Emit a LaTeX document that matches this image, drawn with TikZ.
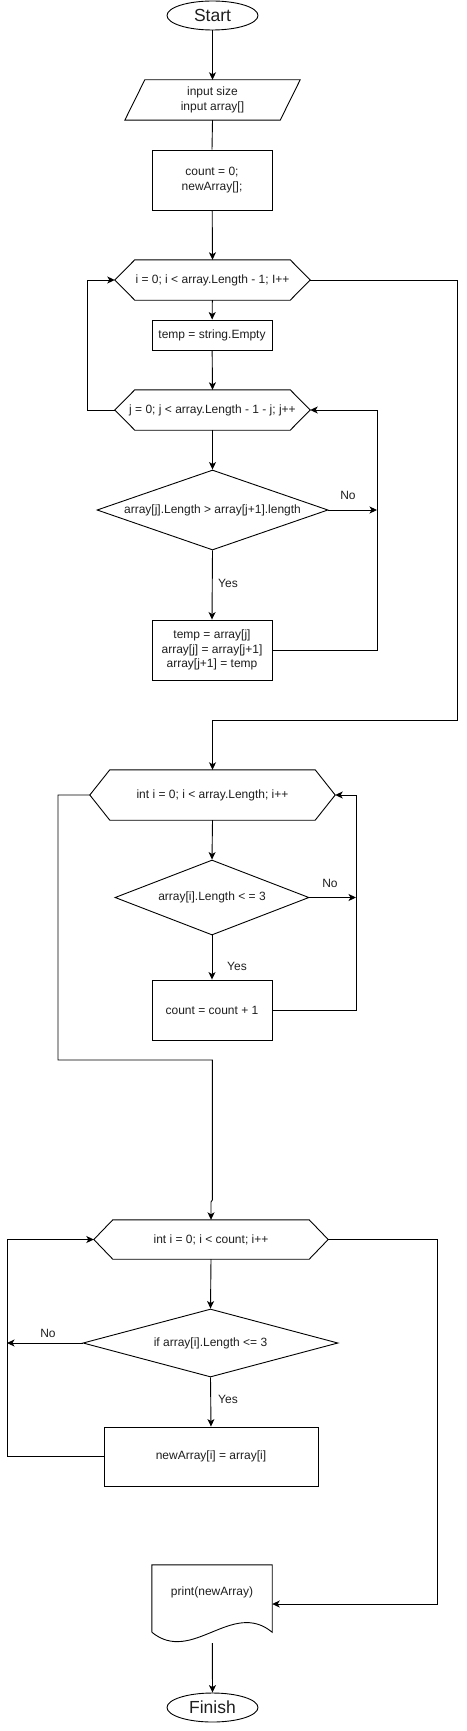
\documentclass[tikz,border=0pt]{standalone}
\usepackage{fontspec}
\setmainfont{Liberation Sans}
\usetikzlibrary{shapes.geometric,arrows.meta,calc}
\definecolor{txt}{RGB}{30,30,30}
\tikzset{
  every node/.style={text=txt,font=\fontsize{12}{14.5}\selectfont,inner sep=0pt},
  ln/.style={line width=0.9pt,draw=black},
  arr/.style={ln,-{Stealth[length=7.5pt,width=7pt,inset=2pt]}},
  term/.style={ellipse,draw=black,line width=0.9pt,minimum width=91pt,minimum height=29pt,font=\fontsize{17.5}{20}\selectfont},
  procbox/.style={rectangle,draw=black,line width=0.9pt,align=center},
  shapebox/.style={rectangle,align=center},
  decbox/.style={diamond,draw=black,line width=0.9pt,align=center},
  lbl/.style={font=\fontsize{12}{14}\selectfont}
}
\newcommand{\hexagonal}[2]{%
  \draw[ln] (#1.west) -- ($(#1.north west)+(#2,0)$) -- ($(#1.north east)+(-#2,0)$)
    -- (#1.east) -- ($(#1.south east)+(-#2,0)$) -- ($(#1.south west)+(#2,0)$) -- cycle;}
\begin{document}
\begin{tikzpicture}[x=1pt,y=-1pt]
\useasboundingbox (0,0) rectangle (466,1731);
% nodes
\node[term] (start) at (212.5,15.5) {Start};
\node[shapebox,minimum width=175pt,minimum height=40pt] (in) at (212.5,100) {input size\\input array[]};
\draw[ln] (in.south west) -- ($(in.north west)+(20,0)$) -- (in.north east) -- ($(in.south east)+(-20,0)$) -- cycle;
\node[procbox,minimum width=120pt,minimum height=60pt] (c1) at (212,180) {count = 0;\\newArray[];};
\node[shapebox,minimum width=195pt,minimum height=40pt] (h1) at (212.5,280) {i = 0; i {\textless} array.Length - 1; I++};
\hexagonal{h1}{20}
\node[procbox,minimum width=120pt,minimum height=30pt] (t1) at (212,335) {temp = string.Empty};
\node[shapebox,minimum width=195pt,minimum height=40pt] (h2) at (212.5,410) {j = 0; j {\textless} array.Length - 1 - j; j++};
\hexagonal{h2}{20}
\node[decbox,minimum width=231pt,minimum height=80pt,aspect=2.9] (d1) at (212.5,510) {array[j].Length {\textgreater} array[j+1].length};
\node[procbox,minimum width=120pt,minimum height=60pt] (s1) at (212,650) {temp = array[j]\\array[j] = array[j+1]\\array[j+1] = temp};
\node[shapebox,minimum width=245pt,minimum height=50pt] (h3) at (212.5,795) {int i = 0; i {\textless} array.Length; i++};
\hexagonal{h3}{20}
\node[decbox,minimum width=194pt,minimum height=75pt,aspect=2.6] (d2) at (212,897.5) {array[i].Length {\textless} = 3};
\node[procbox,minimum width=120pt,minimum height=60pt] (c2) at (212,1010) {count = count + 1};
\node[shapebox,minimum width=234pt,minimum height=39pt] (h4) at (211,1239.5) {int i = 0; i {\textless} count; i++};
\hexagonal{h4}{19}
\node[decbox,minimum width=255pt,minimum height=68pt,aspect=3.75] (d3) at (210.5,1343) {if array[i].Length {\textless}= 3};
\node[procbox,minimum width=214pt,minimum height=59pt] (r4) at (211,1456.5) {newArray[i] = array[i]};
\node[shapebox,minimum width=120pt,minimum height=67pt] (doc) at (212,1598.5) {};
\node at (212,1592) {print(newArray)};
\draw[ln] (doc.south west) -- (doc.north west) -- (doc.north east) -- (doc.south east)
  .. controls (232,1599) and (192,1665) .. (doc.south west);
\coordinate (docb) at (212.3,1643);
\node[term] (fin) at (212.5,1707.5) {Finish};
% connectors
\draw[arr] (start) -- (in.north);
\draw[ln] (in.south) -- (c1.north);
\draw[arr] (c1) -- (h1.north);
\draw[arr] (h1) -- (t1);
\draw[arr] (t1) -- (h2.north);
\draw[arr] (h2.west) -- (87,410) -- (87,280) -- (h1.west);
\draw[arr] (h2.south) -- (d1.north);
\draw[arr] (d1.east) -- (377,510);
\node[lbl] at (348,495) {No};
\draw[arr] (d1.south) -- (s1.north);
\node[lbl] at (228,583) {Yes};
\draw[arr] (s1.east) -- (377,650) -- (377,410) -- (h2.east);
\draw[arr] (h1.east) -- (457,280) -- (457,720) -- (212.5,720) -- (h3.north);
\draw[arr] (h3.south) -- (d2.north);
\draw[arr] (d2.east) -- (356,897.5);
\node[lbl] at (330,883) {No};
\draw[arr] (d2.south) -- (c2.north);
\node[lbl] at (237,966) {Yes};
\draw[arr] (c2.east) -- (356,1010) -- (356,795) -- (h3.east);
\draw[arr] (h3.west) -- (58,795) -- (58,1060) -- (212.3,1060) -- (212.3,1200) -- (211,1202) -- (h4.north);
\draw[arr] (h4.south) -- (d3.north);
\draw[arr] (d3.west) -- (7,1343);
\node[lbl] at (48,1333) {No};
\draw[arr] (d3.south) -- (r4.north);
\node[lbl] at (228,1399) {Yes};
\draw[arr] (r4.west) -- (7,1456.5) -- (7,1239.5) -- (h4.west);
\draw[arr] (h4.east) -- (437,1239.5) -- (437,1604) -- (doc.east |- 0,1604);
\draw[arr] (docb) -- (fin.north);
\end{tikzpicture}
\end{document}
